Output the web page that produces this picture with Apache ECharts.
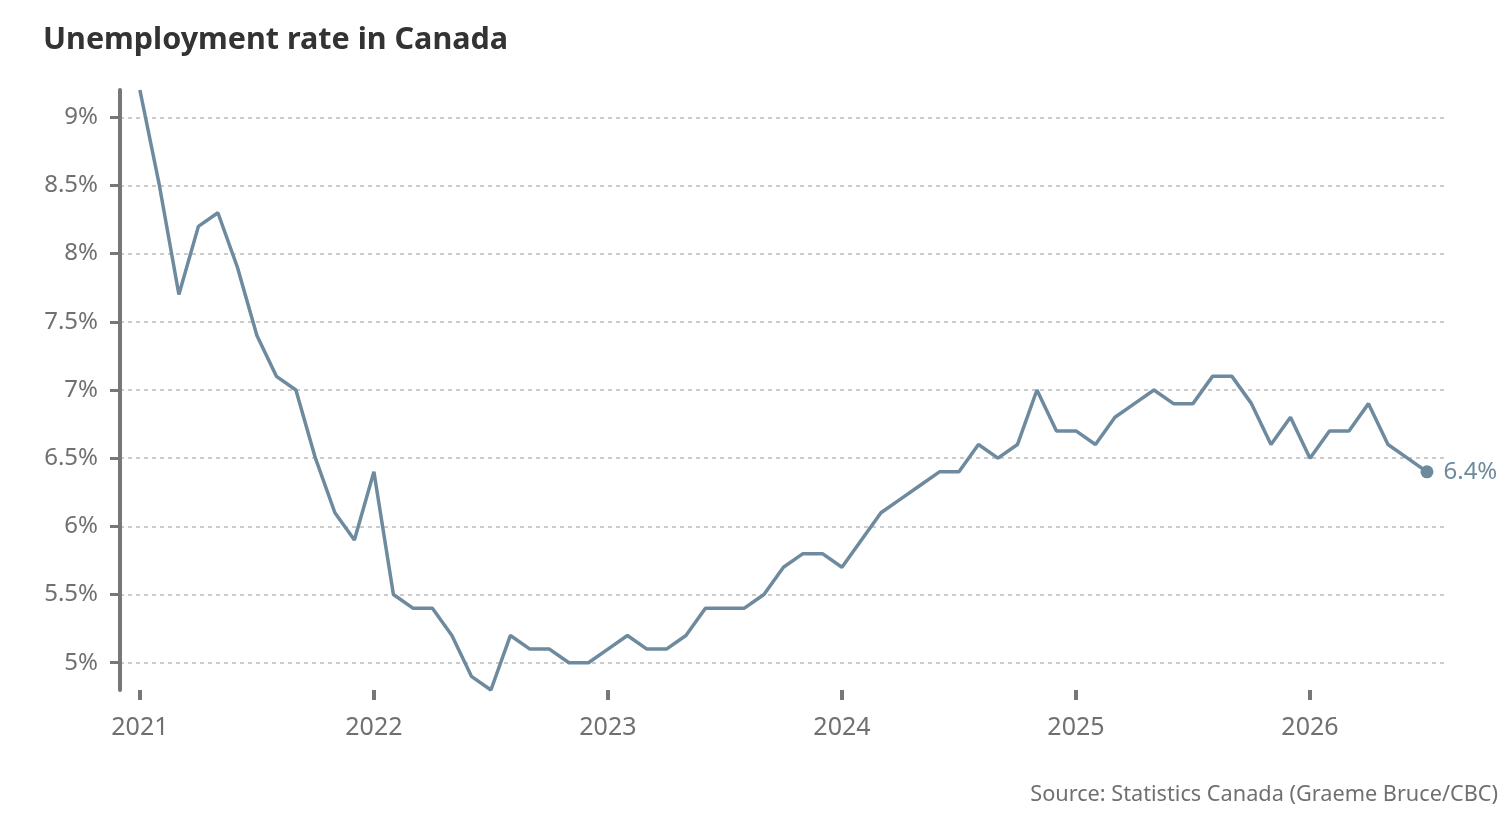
<!DOCTYPE html>
<html>
<head>
<meta charset="utf-8">
<title>Unemployment rate in Canada</title>
<script src="https://cdn.jsdelivr.net/npm/echarts@6/dist/echarts.min.js"></script>
<style>
  html, body { margin: 0; padding: 0; background: #fff; }
  #chart { width: 1510px; height: 826px; }
</style>
</head>
<body>
<div id="chart"></div>
<script>
// monthly unemployment rate (%), Jan 2021 onward
const startYear = 2021
const rates2021 = [9.2, 8.5, 7.7, 8.2, 8.3, 7.9, 7.4, 7.1, 7.0, 6.5, 6.1, 5.9]
const rates2022 = [6.4, 5.5, 5.4, 5.4, 5.2, 4.9, 4.8, 5.2, 5.1, 5.1, 5.0, 5.0]
const rates2023 = [5.1, 5.2, 5.1, 5.1, 5.2, 5.4, 5.4, 5.4, 5.5, 5.7, 5.8, 5.8]
const rates2024 = [5.7, 5.9, 6.1, 6.2, 6.3, 6.4, 6.4, 6.6, 6.5, 6.6, 7.0, 6.7]
const rates2025 = [6.7, 6.6, 6.8, 6.9, 7.0, 6.9, 6.9, 7.1, 7.1, 6.9, 6.6, 6.8]
const rates2026 = [6.5, 6.7, 6.7, 6.9, 6.6, 6.5, 6.4]

const yearTicks = [2021, 2022, 2023, 2024, 2025, 2026]
const rateTicks = [5, 5.5, 6, 6.5, 7, 7.5, 8, 8.5, 9]

const rates = [].concat(rates2021, rates2022, rates2023, rates2024, rates2025, rates2026)
// x = fractional year for each month
const points = rates.map((v, i) => [startYear + i / 12, v])
const last = points[points.length - 1]

const lineColor = '#6d8a9f'
const greyText = '#707070'
const font = "'Noto Sans', sans-serif"

const chart = echarts.init(document.getElementById('chart'), null, { renderer: 'canvas' })

chart.setOption({
  backgroundColor: '#fff',
  animation: false,
  title: [
    {
      text: 'Unemployment rate in Canada',
      left: 38,
      top: 20,
      textStyle: { fontFamily: font, fontWeight: 'bold', fontSize: 30.5, color: '#333' }
    },
    {
      text: 'Source: Statistics Canada (Graeme Bruce/CBC)',
      right: 7,
      top: 779,
      textStyle: { fontFamily: font, fontWeight: 'normal', fontSize: 21.7, color: greyText }
    }
  ],
  grid: { left: 120, right: 65, top: 90, bottom: 136, containLabel: false },
  xAxis: {
    type: 'value',
    min: 2020.915,
    max: 2026.577,
    axisLine: { show: false },
    splitLine: { show: false },
    axisTick: {
      show: true,
      customValues: yearTicks,
      length: 10,
      lineStyle: { color: '#777', width: 4 }
    },
    axisLabel: {
      customValues: yearTicks,
      margin: 25,
      fontFamily: font,
      fontSize: 25,
      color: greyText,
      formatter: v => String(Math.round(v))
    }
  },
  yAxis: {
    type: 'value',
    min: 4.8,
    max: 9.2,
    axisLine: { show: true, lineStyle: { color: '#777', width: 4 } },
    axisTick: {
      show: true,
      customValues: rateTicks,
      length: 10,
      lineStyle: { color: '#777', width: 3 }
    },
    axisLabel: {
      customValues: rateTicks,
      margin: 22,
      fontFamily: font,
      fontSize: 24,
      color: greyText,
      formatter: v => v + '%'
    },
    splitLine: {
      show: true,
      lineStyle: { color: '#bbb', width: 1.5, type: [4, 4] }
    }
  },
  series: [
    {
      type: 'line',
      data: points,
      showSymbol: false,
      lineStyle: { color: lineColor, width: 3.5 },
      itemStyle: { color: lineColor }
    },
    {
      type: 'scatter',
      data: [last],
      symbolSize: 13,
      itemStyle: { color: lineColor, opacity: 1 },
      label: {
        show: true,
        position: 'right',
        distance: 10,
        fontFamily: font,
        fontSize: 24,
        color: lineColor,
        formatter: p => p.value[1] + '%'
      }
    }
  ]
})
</script>
</body>
</html>
